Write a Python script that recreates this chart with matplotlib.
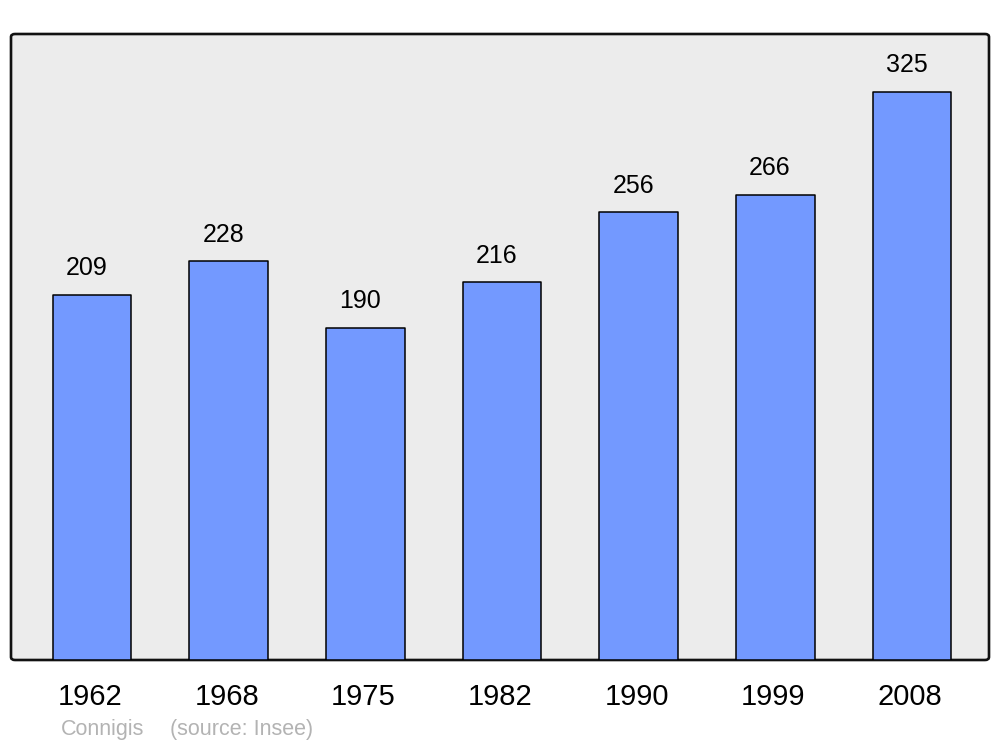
import matplotlib.pyplot as plt
from matplotlib.patches import FancyBboxPatch

plt.rcParams['font.family'] = ['Liberation Sans', 'DejaVu Sans']

years = ['1962', '1968', '1975', '1982', '1990', '1999', '2008']
population = [209, 228, 190, 216, 256, 266, 325]

fig = plt.figure(figsize=(10, 7.47), dpi=100)
ax = fig.add_axes([0.011, 87 / 747, 0.978, 626 / 747])
ax.set_facecolor('none')

# rounded grey frame behind the plot
frame = FancyBboxPatch((0.011, 87 / 747), 0.978, 626 / 747,
                       boxstyle='round,pad=0,rounding_size=0.004',
                       transform=fig.transFigure, facecolor='#ececec',
                       edgecolor='#111111', linewidth=1.9, zorder=-1)
fig.patches.append(frame)

x = list(range(len(years)))
ax.bar(x, population, width=0.575, color='#7399ff', edgecolor='black',
       linewidth=1.1, joinstyle='round', zorder=2)

for xi, v in zip(x, population):
    ax.annotate(str(v), (xi, v), xytext=(-4, 19), textcoords='offset points',
                ha='center', va='center', fontsize=18)
    ax.annotate(years[xi], (xi, 0), xytext=(-1.5, -26.5), textcoords='offset points',
                ha='center', va='center', fontsize=21, annotation_clip=False)

ax.set_xlim(-0.593, 6.563)
ax.set_ylim(0, 358)
ax.set_xticks([])
ax.set_yticks([])
for s in ax.spines.values():
    s.set_visible(False)

fig.text(0.061, 1 - 730 / 747, 'Connigis', color='#b3b3b3',
         fontsize=15.5, ha='left', va='center')
fig.text(0.170, 1 - 730 / 747, '(source: Insee)', color='#b3b3b3',
         fontsize=15.5, ha='left', va='center')

fig.savefig('out.png', dpi=100)
